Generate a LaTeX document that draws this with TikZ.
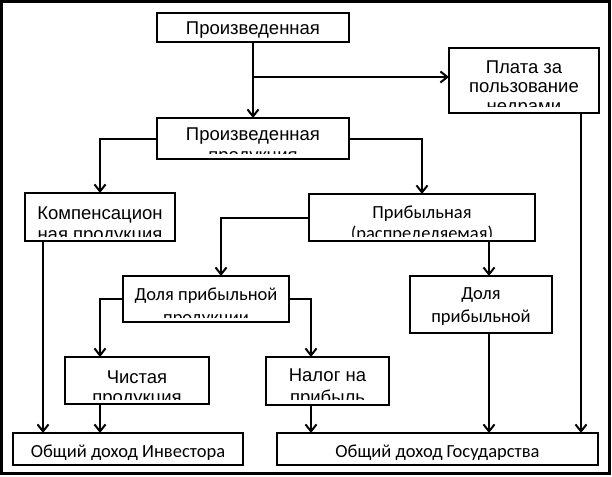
\documentclass[tikz,border=0pt]{standalone}
\usepackage{fontspec}
\setmainfont{Liberation Sans}
\newfontfamily\carl{Carlito}
\usetikzlibrary{arrows.meta}
\tikzset{
  box/.style={draw, line width=2.2pt, inner sep=0pt, outer sep=0pt},
  ar/.style={font=\fontsize{18.5}{22}\selectfont, inner sep=0pt, anchor=base},
  ca/.style={font=\carl\fontsize{18.5}{22}\selectfont, inner sep=0pt, anchor=base},
  conn/.style={line width=2pt},
  arr/.style={line width=2pt, -{Straight Barb[length=7pt,width=11pt]}}
}
\begin{document}
\begin{tikzpicture}[x=1pt,y=-1pt]
\useasboundingbox (0,0) rectangle (612,476);
\fill[white] (0,0) rectangle (612,476);
\draw[line width=3pt] (1.5,1.5) rectangle (609.5,473.5);

% boxes
\node[box, minimum width=192, minimum height=29] (b1) at (253,27.5) {};
\node[box, minimum width=192, minimum height=41] (b2) at (253,138.5) {};
\node[box, minimum width=150, minimum height=65] (plata) at (524,80.5) {};
\node[box, minimum width=150, minimum height=48] (komp) at (100,217) {};
\node[box, minimum width=226, minimum height=47] (prib) at (422,217.5) {};
\node[box, minimum width=166, minimum height=46] (dm) at (206,299) {};
\node[box, minimum width=142, minimum height=57] (dr) at (481,304.5) {};
\node[box, minimum width=144, minimum height=47] (chist) at (137,380.5) {};
\node[box, minimum width=123, minimum height=48] (nal) at (327.5,381) {};
\node[box, minimum width=230, minimum height=32] (inv) at (128,449) {};
\node[box, minimum width=321, minimum height=32] (gos) at (437.5,449) {};

% texts
\node[ar] (t1) at (253,35) {Произведенная};
\begin{scope}
  \clip (159,120) rectangle (347,153.5);
  \node[ar] (t2a) at (253,140) {Произведенная};
  \node[ar] (t2b) at (253,161) {продукция};
\end{scope}
\begin{scope}
  \clip (451,50) rectangle (597,106.5);
  \node[ar] (t3a) at (524,74) {Плата за};
  \node[ar] (t3b) at (524,93) {пользование};
  \node[ar] (t3c) at (524,112) {недрами};
\end{scope}
\begin{scope}
  \clip (27,195) rectangle (173,236.5);
  \node[ar] (t4a) at (100,219) {Компенсацион};
  \node[ar] (t4b) at (100,240.5) {ная продукция};
\end{scope}
\begin{scope}
  \clip (311,196) rectangle (533,236);
  \node[ca] (t5a) at (422,218) {Прибыльная};
  \node[ca] (t5b) at (422,239) {(распределяемая)};
\end{scope}
\begin{scope}
  \clip (125,278) rectangle (287,317);
  \node[ca] (t6a) at (206,300) {Доля прибыльной};
  \node[ca] (t6b) at (206,323) {продукции};
\end{scope}
\node[ca] (t7a) at (481,299) {Доля};
\node[ca] (t7b) at (481,322.5) {прибыльной};
\begin{scope}
  \clip (67,359) rectangle (207,399);
  \node[ar] (t8a) at (137,383) {Чистая};
  \node[ar] (t8b) at (137,403) {продукция};
\end{scope}
\begin{scope}
  \clip (268,359) rectangle (387,399);
  \node[ar] (t9a) at (327.5,381) {Налог на};
  \node[ar] (t9b) at (327.5,403) {прибыль};
\end{scope}
\node[ca] (t10) at (128,457) {Общий доход Инвестора};
\node[ca] (t11) at (437.5,457) {Общий доход Государства};

% connectors
\coordinate (j1) at (253,77);
\draw[arr] (b1) -- (b2);
\draw[conn] (j1) -- (j1 -| plata.west);
\draw[arr] ([xshift=-8pt]j1 -| plata.west) -- (j1 -| plata.west);
\draw[arr] (b2.west) -| (komp.north);
\draw[arr] (b2.east) -| (prib.north);
\draw[arr] ([xshift=-18pt]plata.south east) -- ([xshift=-18pt]plata.south east |- gos.north);
\draw[arr] ([xshift=18pt]komp.south west) -- ([xshift=18pt]komp.south west |- inv.north);
\draw[arr] (prib.west) -| ([xshift=15pt]dm.north);
\draw[arr] ([xshift=-46pt]prib.south east) -- ([xshift=-46pt]prib.south east |- dr.north);
\draw[arr] (dm.west) -| ([xshift=35pt]chist.north west);
\draw[arr] (dm.east) -| ([xshift=45pt]nal.north west);
\draw[arr] ([xshift=35pt]chist.south west) -- ([xshift=35pt]chist.south west |- inv.north);
\draw[arr] ([xshift=45pt]nal.south west) -- ([xshift=45pt]nal.south west |- gos.north);
\draw[arr] ([xshift=8pt]dr.south) -- ([xshift=8pt]dr.south |- gos.north);
\end{tikzpicture}
\end{document}
